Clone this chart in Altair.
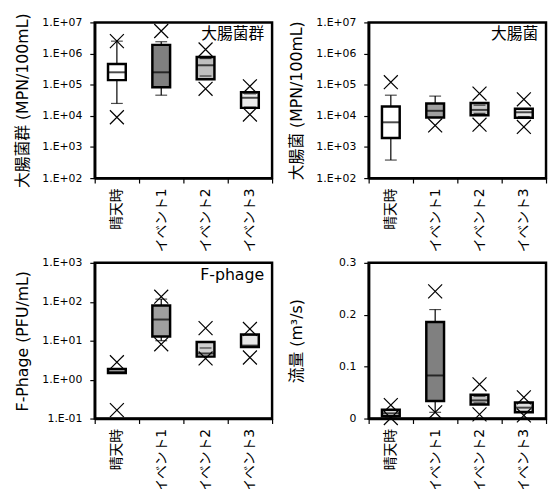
import altair as alt
import pandas as pd

cats = ["晴天時", "イベント1", "イベント2", "イベント3"]

# 大腸菌群
tc_xmax = [2.5e6, 5.3e6, 1.35e6, 8.9e4]
tc_whi = [2.5e6, 2.4e6, 6.9e5, 5.1e4]
tc_q3 = [4.6e5, 1.9e6, 7.7e5, 5.7e4]
tc_med = [2.5e5, 2.5e5, 4.2e5, 3.8e4]
tc_q1 = [1.4e5, 8.3e4, 1.5e5, 1.8e4]
tc_wlo = [2.5e4, 4.6e4, 1.9e5, 1.9e4]
tc_xmin = [9.0e3, None, 7.4e4, 1.1e4]

# 大腸菌
ec_xmax = [1.2e5, None, 5.2e4, 3.4e4]
ec_whi = [4.6e4, 4.3e4, 2.2e4, 1.6e4]
ec_q3 = [2.0e4, 2.5e4, 2.6e4, 1.7e4]
ec_med = [6.2e3, 1.45e4, 1.55e4, 1.3e4]
ec_q1 = [1.95e3, 8.9e3, 1.05e4, 8.7e3]
ec_wlo = [3.8e2, 8.9e3, 1.2e4, 9.5e3]
ec_xmin = [None, 4.9e3, 5.2e3, 4.4e3]

# F-phage
fp_xmax = [2.8, 135, 21, 20]
fp_whi = [1.87, 117, 6.5, 14]
fp_q3 = [1.87, 80, 9.3, 14.5]
fp_med = [1.6, 35, 4.7, 7.5]
fp_q1 = [1.48, 12.8, 3.9, 6.9]
fp_wlo = [1.48, 10, 3.9, 6.9]
fp_xmin = [0.165, 8.1, 3.5, 3.7]

# 流量
fl_xmax = [0.026, 0.245, 0.066, 0.041]
fl_whi = [0.017, 0.21, 0.043, 0.031]
fl_q3 = [0.017, 0.186, 0.046, 0.031]
fl_med = [0.010, 0.083, 0.035, 0.021]
fl_q1 = [0.0045, 0.034, 0.027, 0.012]
fl_wlo = [0.003, 0.012, 0.030, 0.014]
fl_xmin = [0.001, 0.012, 0.008, 0.006]

FONT = "DejaVu Sans, Noto Sans CJK JP"
W, H = 180, 158
XSHAPE = "M-1,-1L1,1M1,-1L-1,1"

LOG_EXPR = ("'1.E' + (datum.value < 1 ? '-' : '+') + "
            "format(abs(round(log(datum.value) / LN10)), '02d')")


def panel(xmax, whi, q3, med, q1, wlo, xmin, colors, ytitle, label, log, domain, ticks):
    df = pd.DataFrame({"cat": cats, "xmax": xmax, "whi": whi, "q3": q3,
                       "med": med, "q1": q1, "wlo": wlo, "xmin": xmin,
                       "color": colors})
    x = alt.X("cat:N", sort=cats,
              scale=alt.Scale(domain=cats, paddingInner=0, paddingOuter=0),
              axis=alt.Axis(title=None, labelAngle=270, tickBand="extent",
                            tickSize=5, labelPadding=5, grid=False,
                            domain=True, domainColor="black", domainWidth=2.5,
                            tickColor="black", tickWidth=1.2, labelColor="black",
                            labelFontSize=14, labelFont=FONT, labelAlign="right",
                            labelBaseline="middle"))
    if log:
        yscale = alt.Scale(type="log", domain=domain)
        yaxis = alt.Axis(title=ytitle, values=ticks, labelExpr=LOG_EXPR)
    else:
        yscale = alt.Scale(domain=domain)
        yaxis = alt.Axis(title=ytitle, values=ticks,
                         labelExpr="datum.value == 0 ? '0' : format(datum.value, '.1f')")
    yaxis_kw = dict(tickSize=5, labelPadding=8, minExtent=54, maxExtent=54,
                    titlePadding=11, grid=False, domain=True, domainColor="black",
                    domainWidth=2.5, tickColor="black", tickWidth=1.2,
                    labelColor="black", titleColor="black", labelFontSize=11,
                    titleFontSize=16, titleFontWeight="normal", labelFont=FONT,
                    titleFont=FONT)
    for k, v in yaxis_kw.items():
        setattr(yaxis, k, v)

    base = alt.Chart(df)
    whisk = base.mark_rule(color="black", strokeWidth=1.2).encode(
        x=x, y=alt.Y("wlo:Q", scale=yscale, axis=yaxis), y2="whi:Q")
    box = base.mark_bar(size=18, stroke="black", strokeWidth=2.5).encode(
        x=x, y=alt.Y("q1:Q", scale=yscale), y2="q3:Q",
        fill=alt.Fill("color:N", scale=None))
    medl = base.mark_tick(color="black", size=18, thickness=2).encode(
        x=x, y=alt.Y("med:Q", scale=yscale))
    caphi = base.mark_tick(color="black", size=12, thickness=1.2).encode(
        x=x, y=alt.Y("whi:Q", scale=yscale))
    caplo = base.mark_tick(color="black", size=12, thickness=1.2).encode(
        x=x, y=alt.Y("wlo:Q", scale=yscale))
    pmax = base.transform_filter("isValid(datum.xmax)").mark_point(
        shape=XSHAPE, size=200, filled=False, color="black", strokeWidth=1.2,
        opacity=1).encode(x=x, y=alt.Y("xmax:Q", scale=yscale))
    pmin = base.transform_filter("isValid(datum.xmin)").mark_point(
        shape=XSHAPE, size=200, filled=False, color="black", strokeWidth=1.2,
        opacity=1).encode(x=x, y=alt.Y("xmin:Q", scale=yscale))
    layers = [whisk, box, medl, caphi, caplo, pmax, pmin]
    if label:
        t = alt.Chart(pd.DataFrame({"t": [label]})).mark_text(
            align="right", baseline="top", fontSize=16, font=FONT,
            color="black").encode(x=alt.value(W - 8), y=alt.value(4), text="t:N")
        layers.append(t)
    return alt.layer(*layers).properties(width=W, height=H)


logt = [1e2, 1e3, 1e4, 1e5, 1e6, 1e7]
p1 = panel(tc_xmax, tc_whi, tc_q3, tc_med, tc_q1, tc_wlo, tc_xmin,
           ["#ffffff", "#808080", "#bfbfbf", "#ececec"],
           "大腸菌群 (MPN/100mL)", "大腸菌群", True, [1e2, 1e7], logt)
p2 = panel(ec_xmax, ec_whi, ec_q3, ec_med, ec_q1, ec_wlo, ec_xmin,
           ["#ffffff", "#a0a0a0", "#c8c8c8", "#ececec"],
           "大腸菌 (MPN/100mL)", "大腸菌", True, [1e2, 1e7], logt)
p3 = panel(fp_xmax, fp_whi, fp_q3, fp_med, fp_q1, fp_wlo, fp_xmin,
           ["#ffffff", "#a0a0a0", "#d0d0d0", "#e6e6e6"],
           "F-Phage (PFU/mL)", "F-phage", True, [1e-1, 1e3],
           [1e-1, 1e0, 1e1, 1e2, 1e3])
p4 = panel(fl_xmax, fl_whi, fl_q3, fl_med, fl_q1, fl_wlo, fl_xmin,
           ["#d9d9d9", "#808080", "#c0c0c0", "#e0e0e0"],
           "流量 (m³/s)", None, False, [0, 0.3], [0, 0.1, 0.2, 0.3])

chart = alt.vconcat(
    alt.hconcat(p1, p2, spacing=13),
    alt.hconcat(p3, p4, spacing=13),
    spacing=1,
).properties(
    padding={"left": 5, "top": 0, "right": 0, "bottom": 0},
    background="white",
).configure_view(stroke="#000000", strokeWidth=2.5)

chart.save("out.html", embed_options={"renderer": "svg", "actions": False})
